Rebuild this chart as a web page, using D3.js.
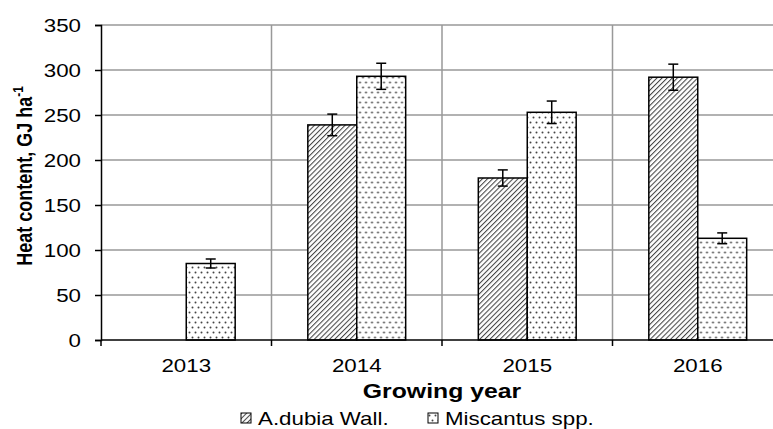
<!DOCTYPE html>
<html>
<head>
<meta charset="utf-8">
<script src="https://cdn.jsdelivr.net/npm/d3@7"></script>
<style>
  body { margin: 0; background: #fff; }
  svg { display: block; font-family: "Liberation Sans", Arial, sans-serif; }
</style>
</head>
<body>
<div id="chart"></div>
<script>
// data
let years = ["2013", "2014", "2015", "2016"];
let seriesNames = ["A.dubia Wall.", "Miscantus spp."];
let adubia = [0, 239, 180, 292];
let adubiaErr = [0, 12, 9, 14.5];
let miscanthus = [85, 293, 253, 113];
let miscanthusErr = [5, 14.5, 12.5, 6];
let yTicks = [0, 50, 100, 150, 200, 250, 300, 350];

let width = 773,
    height = 429,
    margin = {top: 25, right: -10, bottom: 89, left: 101};

// the original picture is stretched sideways, text included
let SX = 1.24;
let place = (x, y) => "translate(" + x + "," + y + ") scale(" + SX + ",1)";

let svg = d3.select("#chart").append("svg")
    .attr("width", width)
    .attr("height", height);

let defs = svg.append("defs");

let hatch = defs.append("pattern")
    .attr("id", "hatch")
    .attr("patternUnits", "userSpaceOnUse")
    .attr("width", 3.6)
    .attr("height", 3.6)
    .attr("patternTransform", "rotate(45)");
hatch.append("rect").attr("width", 3.6).attr("height", 3.6).attr("fill", "#fff");
hatch.append("line")
    .attr("x1", 0).attr("y1", 0).attr("x2", 0).attr("y2", 3.6)
    .attr("stroke", "#444").attr("stroke-width", 2.1);

let dots = defs.append("pattern")
    .attr("id", "dots")
    .attr("patternUnits", "userSpaceOnUse")
    .attr("width", 6)
    .attr("height", 10);
dots.append("rect").attr("width", 6).attr("height", 10).attr("fill", "#fff");
dots.append("circle").attr("cx", 1.5).attr("cy", 2.5).attr("r", 1).attr("fill", "#444");
dots.append("circle").attr("cx", 4.5).attr("cy", 7.5).attr("r", 1).attr("fill", "#444");

let fills = ["url(#hatch)", "url(#dots)"];

let innerW = width - margin.left - margin.right,
    innerH = height - margin.top - margin.bottom;

let g = svg.append("g")
    .attr("transform", "translate(" + margin.left + "," + margin.top + ")");

let x = d3.scaleBand().domain(years).range([0, innerW]).paddingInner(0).paddingOuter(0);
let xSub = d3.scaleBand().domain([0, 1]).range([x.bandwidth() * 0.213, x.bandwidth() * 0.787]);
let y = d3.scaleLinear().domain([0, 350]).range([innerH, 0]);

// horizontal gridlines
g.selectAll(".hgrid")
    .data(yTicks.slice(1))
    .enter().append("line")
    .attr("class", "hgrid")
    .attr("x1", 0).attr("x2", innerW)
    .attr("y1", d => y(d)).attr("y2", d => y(d))
    .attr("stroke", "#999").attr("stroke-width", 1.5);

// vertical gridlines at category boundaries
g.selectAll(".vgrid")
    .data(years.slice(1))
    .enter().append("line")
    .attr("class", "vgrid")
    .attr("x1", d => x(d)).attr("x2", d => x(d))
    .attr("y1", 0).attr("y2", innerH)
    .attr("stroke", "#999").attr("stroke-width", 1.5);

let rows = years.map((yr, i) => ({
    year: yr,
    values: [
        {s: 0, v: adubia[i], e: adubiaErr[i]},
        {s: 1, v: miscanthus[i], e: miscanthusErr[i]}
    ].filter(d => d.v > 0)
}));

let groups = g.selectAll(".grp")
    .data(rows)
    .enter().append("g")
    .attr("class", "grp")
    .attr("transform", d => "translate(" + x(d.year) + ",0)");

groups.selectAll("rect")
    .data(d => d.values)
    .enter().append("rect")
    .attr("x", d => xSub(d.s))
    .attr("y", d => y(d.v))
    .attr("width", xSub.bandwidth())
    .attr("height", d => innerH - y(d.v))
    .attr("fill", d => fills[d.s])
    .attr("stroke", "#000")
    .attr("stroke-width", 1.5);

// error bars
let eb = groups.selectAll(".err")
    .data(d => d.values)
    .enter().append("g")
    .attr("class", "err")
    .attr("transform", d => "translate(" + (xSub(d.s) + xSub.bandwidth() / 2) + ",0)");
eb.append("line")
    .attr("y1", d => y(d.v + d.e)).attr("y2", d => y(d.v - d.e))
    .attr("stroke", "#000").attr("stroke-width", 1.5);
eb.append("line")
    .attr("x1", -5).attr("x2", 5)
    .attr("y1", d => y(d.v + d.e)).attr("y2", d => y(d.v + d.e))
    .attr("stroke", "#000").attr("stroke-width", 1.5);
eb.append("line")
    .attr("x1", -5).attr("x2", 5)
    .attr("y1", d => y(d.v - d.e)).attr("y2", d => y(d.v - d.e))
    .attr("stroke", "#000").attr("stroke-width", 1.5);

// y axis (labels drawn separately so they can be stretched)
let yAxis = g.append("g")
    .call(d3.axisLeft(y).tickValues(yTicks).tickSize(6).tickFormat(""));
yAxis.select(".domain").attr("stroke-width", 1.5);
yAxis.selectAll(".tick line").attr("stroke-width", 1.5);

g.selectAll(".ylab")
    .data(yTicks)
    .enter().append("text")
    .attr("class", "ylab")
    .attr("transform", d => place(-20, y(d) + 6.5))
    .attr("text-anchor", "end")
    .style("font-size", "18px")
    .text(d => d);

// x axis: ticks at category boundaries, labels centred
let xAxis = g.append("g")
    .attr("transform", "translate(0," + innerH + ")");
xAxis.append("line")
    .attr("x1", 0).attr("x2", innerW)
    .attr("stroke", "#000").attr("stroke-width", 1.5);
xAxis.selectAll(".xt")
    .data(years)
    .enter().append("line")
    .attr("x1", d => x(d)).attr("x2", d => x(d))
    .attr("y1", 0).attr("y2", 6)
    .attr("stroke", "#000").attr("stroke-width", 1.5);
xAxis.selectAll(".xl")
    .data(years)
    .enter().append("text")
    .attr("transform", d => place(x(d) + x.bandwidth() / 2, 32))
    .attr("text-anchor", "middle")
    .style("font-size", "18px")
    .text(d => d);

// axis titles
svg.append("text")
    .attr("transform", place(442, 398))
    .attr("text-anchor", "middle")
    .style("font-size", "20px")
    .style("font-weight", "bold")
    .text("Growing year");

let yt = svg.append("text")
    .attr("transform", place(32, 176) + " rotate(-90)")
    .attr("text-anchor", "middle")
    .style("font-size", "18px")
    .style("font-weight", "bold");
yt.append("tspan").text("Heat content, GJ ha");
yt.append("tspan").attr("dy", -7).style("font-size", "12px").text("-1");

// legend
let legendX = [241, 428];
let legend = svg.selectAll(".leg")
    .data(seriesNames)
    .enter().append("g")
    .attr("class", "leg")
    .attr("transform", (d, i) => "translate(" + legendX[i] + ",413)");
legend.append("rect")
    .attr("width", 10).attr("height", 10)
    .attr("fill", (d, i) => fills[i])
    .attr("stroke", "#000").attr("stroke-width", 1);
legend.append("text")
    .attr("transform", place(17, 11.5))
    .style("font-size", "18px")
    .text(d => d);
</script>
</body>
</html>
